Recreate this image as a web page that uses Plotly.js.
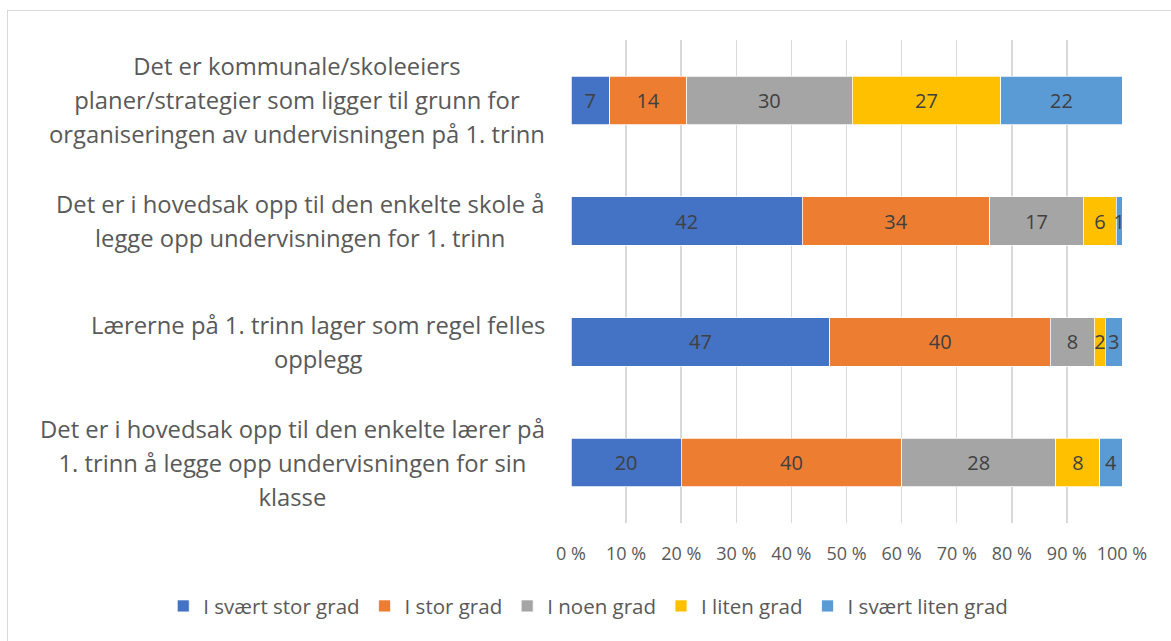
<!DOCTYPE html>
<html>
<head>
<meta charset="utf-8">
<script src="https://cdn.plot.ly/plotly-3.0.1.min.js"></script>
<style>
html,body{margin:0;padding:0;background:#fff;overflow:hidden;}
#wrap{position:relative;width:1171px;height:641px;}
#chart{position:absolute;left:0;top:0;width:1171px;height:641px;}
#frame{position:absolute;left:7px;top:10px;width:1200px;height:700px;border-top:1.5px solid #D9D9D9;border-left:1.5px solid #D9D9D9;pointer-events:none;}
</style>
</head>
<body>
<div id="wrap"><div id="chart"></div><div id="frame"></div></div>
<script>
const categories = [
  "Det er kommunale/skoleeiers planer/strategier som ligger til grunn for organiseringen av undervisningen på 1. trinn",
  "Det er i hovedsak opp til den enkelte skole å legge opp undervisningen for 1. trinn",
  "Lærerne på 1. trinn lager som regel felles opplegg",
  "Det er i hovedsak opp til den enkelte lærer på 1. trinn å legge opp undervisningen for sin klasse"
];
const categoryLines = [
  ["Det er kommunale/skoleeiers", "planer/strategier som ligger til grunn for", "organiseringen av undervisningen på 1. trinn"],
  ["Det er i hovedsak opp til den enkelte skole å", "legge opp undervisningen for 1. trinn"],
  ["Lærerne på 1. trinn lager som regel felles", "opplegg"],
  ["Det er i hovedsak opp til den enkelte lærer på", "1. trinn å legge opp undervisningen for sin", "klasse"]
];
const seriesNames = ["I svært stor grad", "I stor grad", "I noen grad", "I liten grad", "I svært liten grad"];
const sSvaertStor = [7, 42, 47, 20];
const sStor       = [14, 34, 40, 40];
const sNoen       = [30, 17, 8, 28];
const sLiten      = [27, 6, 2, 8];
const sSvaertLiten= [22, 1, 3, 4];
const seriesValues = [sSvaertStor, sStor, sNoen, sLiten, sSvaertLiten];
const colors = ["#4472C4", "#ED7D31", "#A5A5A5", "#FFC000", "#5B9BD5"];
const tickVals = [0,10,20,30,40,50,60,70,80,90,100];
const tickText = ["0 %","10 %","20 %","30 %","40 %","50 %","60 %","70 %","80 %","90 %","100 %"];

const FONT = "Open Sans, Noto Sans, sans-serif";

const traces = seriesValues.map((vals, i) => ({
  type: "bar",
  orientation: "h",
  name: seriesNames[i],
  x: vals,
  y: categories,
  text: vals.map(String),
  texttemplate: "%{text}",
  textposition: "inside",
  insidetextanchor: "middle",
  constraintext: "none",
  textangle: 0,
  textfont: {family: FONT, size: 20, color: "#404040"},
  marker: {color: colors[i], line: {color: "#FFFFFF", width: 0.75}},
  hoverinfo: "x+name"
}));

const annotations = categories.map((c, i) => ({
  xref: "paper", yref: "y",
  x: 0, y: c,
  xanchor: "right", yanchor: "middle",
  xshift: -24,
  align: "center",
  showarrow: false,
  font: {family: FONT, size: 26, color: "#595959"},
  text: categoryLines[i].map(l => '<span style="font-size:23.8px">' + l + '</span>').join("<br>")
}));

const layout = {
  width: 1171, height: 641,
  margin: {l: 571, r: 49, t: 40, b: 118, pad: 0, autoexpand: false},
  paper_bgcolor: "rgba(0,0,0,0)",
  plot_bgcolor: "rgba(0,0,0,0)",
  barmode: "stack",
  bargap: 0.6,
  showlegend: true,
  font: {family: FONT, color: "#595959"},
  xaxis: {
    range: [0, 100],
    tickvals: tickVals,
    ticktext: tickText,
    showgrid: true,
    gridcolor: "#D9D9D9",
    gridwidth: 1.5,
    zeroline: false,
    showline: false,
    ticks: "",
    ticklabelstandoff: 18,
    tickfont: {family: FONT, size: 18, color: "#595959"},
    fixedrange: true
  },
  yaxis: {
    type: "category",
    categoryorder: "array",
    categoryarray: categories,
    autorange: "reversed",
    showticklabels: false,
    showgrid: false,
    zeroline: false,
    showline: false,
    ticks: "",
    fixedrange: true
  },
  legend: {
    orientation: "h",
    xref: "paper", yref: "paper",
    x: -0.74, xanchor: "left",
    y: -0.172, yanchor: "middle",
    font: {family: FONT, size: 20.5, color: "#595959"},
    traceorder: "normal",
    itemwidth: 30
  },
  annotations: annotations
};

Plotly.newPlot("chart", traces, layout, {displayModeBar: false, staticPlot: true});
</script>
</body>
</html>
